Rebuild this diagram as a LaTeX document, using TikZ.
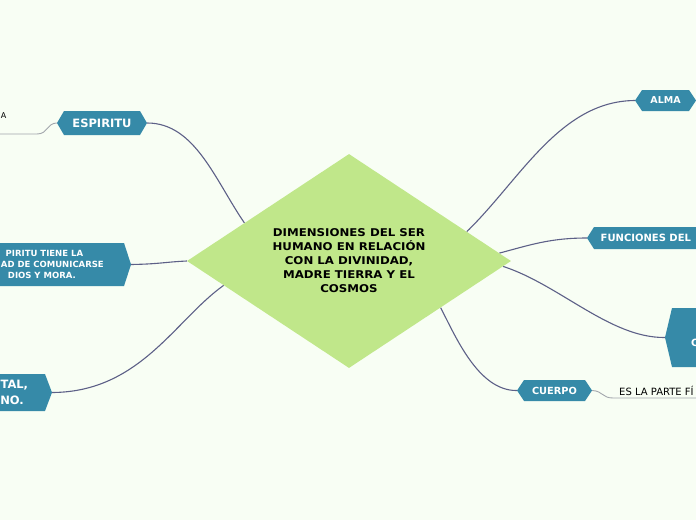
\documentclass[tikz,border=0pt]{standalone}
\usepackage{fontspec}
\setmainfont{DejaVu Sans}
\newfontfamily\titlefont[FakeStretch=1.1]{DejaVu Sans}
\usetikzlibrary{shapes.geometric,shapes.symbols}
\pgfdeclarelayer{bg}
\pgfdeclarelayer{links}
\pgfsetlayers{bg,links,main}
\definecolor{bgc}{HTML}{F8FEF4}
\definecolor{nodeblue}{HTML}{368AA8}
\definecolor{diagreen}{HTML}{C0E78A}
\definecolor{linkc}{HTML}{5D6087}
\definecolor{leafc}{HTML}{A2A6AC}
\begin{document}
\begin{tikzpicture}[x=1pt,y=-1pt,
  hexbox/.style={shape=signal, signal to=east and west, fill=nodeblue, draw=none, text=white, inner sep=0pt},
  lbl/.style={text=white, inner sep=0pt},
  link/.style={draw=linkc, line width=1.1pt},
  leaf/.style={draw=leafc, line width=0.9pt}]
\useasboundingbox (0,0) rectangle (696,520);
\begin{pgfonlayer}{bg}
  \fill[bgc] (0,0) rectangle (696,520);
\end{pgfonlayer}
\clip (0,0) rectangle (696,520);

% central diamond
\node[shape=diamond, fill=diagreen, minimum width=324pt, minimum height=214pt, aspect=1.5, inner sep=0pt, align=center,
      font=\titlefont\bfseries\fontsize{10.7}{14}\selectfont] (dia) at (349,261)
  {DIMENSIONES DEL SER\\HUMANO EN RELACIÓN\\CON LA DIVINIDAD,\\MADRE TIERRA Y EL\\COSMOS};

% left side
\node[hexbox, minimum width=90pt, minimum height=24pt, signal pointer angle=119.5,
      font=\bfseries\fontsize{11.5}{14}\selectfont] (esp) at (102,123) {ESPIRITU};
\node[hexbox, minimum width=281pt, minimum height=43pt, signal pointer angle=144] (capl) at (-9.5,264.5) {};
\node[lbl, anchor=east, align=right, font=\bfseries\fontsize{8.5}{11.2}\selectfont] (capltext) at (104,264.5)
  {PIRITU TIENE LA\makebox[20.7pt]{}\\AD DE COMUNICARSE\\DIOS Y MORA.\makebox[28pt]{}};
\node[hexbox, minimum width=202pt, minimum height=37pt, signal pointer angle=138.5] (vital) at (-49,392.5) {};
\node[lbl, anchor=east, align=right, font=\bfseries\fontsize{11.5}{15.7}\selectfont] (vitaltext) at (28.3,392.5)
  {TAL,\\NO.\makebox[4.3pt]{}};
\node[anchor=west, inner sep=0pt, font=\fontsize{8}{10}\selectfont] (atext) at (0.8,116) {A};

% right side
\node[hexbox, minimum width=61pt, minimum height=21pt, signal pointer angle=112.6,
      font=\bfseries\fontsize{9.5}{12}\selectfont] (alma) at (665.5,100.5) {ALMA};
\node[hexbox, minimum width=173pt, minimum height=22pt, signal pointer angle=115] (func) at (673.5,238) {};
\node[lbl, anchor=west, font=\bfseries\fontsize{10}{12}\selectfont] (functext) at (600.5,238) {FUNCIONES DEL};
\node[hexbox, minimum width=200pt, minimum height=59pt, signal pointer angle=153.3] (bigr) at (765,337.5) {};
\node[lbl, anchor=west, font=\bfseries\fontsize{10}{12}\selectfont] (bigrtext) at (691,343) {C};
\node[hexbox, minimum width=75pt, minimum height=21pt, signal pointer angle=112.6,
      font=\bfseries\fontsize{9.8}{12}\selectfont] (cuerpo) at (554.5,390.5) {CUERPO};
\node[anchor=west, inner sep=0pt, font=\fontsize{10}{12}\selectfont] (estext) at (619,391) {ES LA PARTE FÍ};

\coordinate (espend) at (0,134);
\coordinate (cend) at (696,398);

\begin{pgfonlayer}{links}
  \draw[link] (esp.east) .. controls (195,123) and (215,180) .. (dia.160);
  \draw[link] (capl.east) .. controls (160,264) and (165,262) .. (dia.west);
  \draw[link] (vital.east) .. controls (140,392) and (175,320) .. (dia.191);
  \draw[link] (alma.west) .. controls (560,101) and (520,180) .. (dia.14);
  \draw[link] (func.west) .. controls (550,238) and (530,245) .. (dia.3);
  \draw[link] (bigr.west) .. controls (610,338) and (560,285) .. (dia.358);
  \draw[link] (cuerpo.west) .. controls (478,391) and (455,335) .. (dia.333);
  \draw[leaf] (esp.west) .. controls (47,123) and (48,134) .. (37,134) -- (espend);
  \draw[leaf] (cuerpo.east) .. controls (603,391) and (602,398) .. (613,398) -- (cend);
\end{pgfonlayer}
\end{tikzpicture}
\end{document}
